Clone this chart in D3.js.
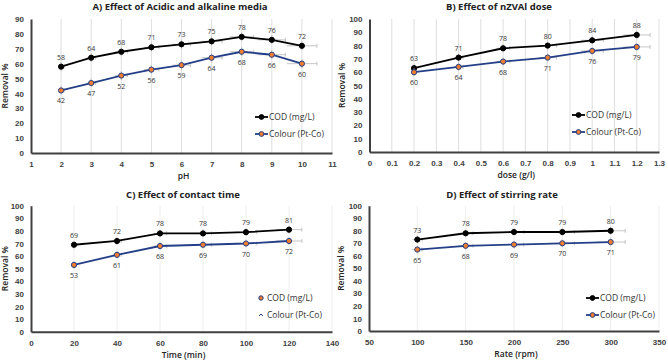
<!DOCTYPE html>
<html>
<head>
<meta charset="utf-8">
<script src="https://cdn.jsdelivr.net/npm/d3@7"></script>
<style>
  body { margin: 0; background: #fff; }
  svg { display: block; font-family: "Open Sans", "Noto Sans", sans-serif; }
</style>
</head>
<body>
<div id="chart"></div>
<script>
// panel A - pH
var phValues = [2, 3, 4, 5, 6, 7, 8, 9, 10];
var phCOD = [58, 64, 68, 71, 73, 75, 78, 76, 72];
var phColour = [42, 47, 52, 56, 59, 64, 68, 66, 60];
var phXErr = [0.1, 0.15, 0.2, 0.25, 0.3, 0.35, 0.4, 0.45, 0.5];
var phXTicks = [1, 2, 3, 4, 5, 6, 7, 8, 9, 10, 11];
var phYTicks = [0, 10, 20, 30, 40, 50, 60, 70, 80, 90];

// panel B - dose
var doseValues = [0.2, 0.4, 0.6, 0.8, 1.0, 1.2];
var doseCOD = [63, 71, 78, 80, 84, 88];
var doseColour = [60, 64, 68, 71, 76, 79];
var doseXErr = [0.01, 0.02, 0.03, 0.04, 0.05, 0.06];
var doseXTicks = [0, 0.1, 0.2, 0.3, 0.4, 0.5, 0.6, 0.7, 0.8, 0.9, 1, 1.1, 1.2, 1.3];

// panel C - time
var timeValues = [20, 40, 60, 80, 100, 120];
var timeCOD = [69, 72, 78, 78, 79, 81];
var timeColour = [53, 61, 68, 69, 70, 72];
var timeXErr = [1, 2, 3, 4, 5, 6];
var timeXTicks = [0, 20, 40, 60, 80, 100, 120, 140];

// panel D - rate
var rateValues = [100, 150, 200, 250, 300];
var rateCOD = [73, 78, 79, 79, 80];
var rateColour = [65, 68, 69, 70, 71];
var rateXErr = [5, 7.5, 10, 12.5, 15];
var rateXTicks = [50, 100, 150, 200, 250, 300, 350];

var yTicks100 = [0, 10, 20, 30, 40, 50, 60, 70, 80, 90, 100];
var yErr = 3;

var W = 668, H = 360;
var blue = "#243f88", orange = "#ed7d31", axisCol = "#404040";

var svg = d3.select("#chart").append("svg")
    .attr("width", W)
    .attr("height", H);

drawPanel({
    title: "A) Effect of Acidic and alkaline media", xTitle: "pH",
    x: phValues, cod: phCOD, colour: phColour, xErr: phXErr,
    xTicks: phXTicks, yTicks: phYTicks, xDomain: [1, 11], yDomain: [0, 90],
    left: 31, right: 332, top: 19, bottom: 153, grid: "#dedede",
    cx: 180, titleY: 10, yTitleX: 8, legendX: 255, legendY: 117, legendType: "line"
});

drawPanel({
    title: "B) Effect of nZVAl dose", xTitle: "dose (g/l)",
    x: doseValues, cod: doseCOD, colour: doseColour, xErr: doseXErr,
    xTicks: doseXTicks, yTicks: yTicks100, xDomain: [0, 1.3], yDomain: [0, 100],
    left: 369.5, right: 659, top: 19, bottom: 152, grid: "#dedede",
    cx: 499, titleY: 10, yTitleX: 345, legendX: 572, legendY: 115, legendType: "line"
});

drawPanel({
    title: "C) Effect of contact time", xTitle: "Time (min)",
    x: timeValues, cod: timeCOD, colour: timeColour, xErr: timeXErr,
    xTicks: timeXTicks, yTicks: yTicks100, xDomain: [0, 140], yDomain: [0, 100],
    left: 31, right: 332, top: 205.7, bottom: 331.7, grid: "#eeeeee",
    cx: 183, titleY: 198, yTitleX: 8, legendX: 255, legendY: 298, legendType: "dot"
});

drawPanel({
    title: "D) Effect of stirring rate", xTitle: "Rate (rpm)",
    x: rateValues, cod: rateCOD, colour: rateColour, xErr: rateXErr,
    xTicks: rateXTicks, yTicks: yTicks100, xDomain: [50, 350], yDomain: [0, 100],
    left: 369, right: 659, top: 205.7, bottom: 331, grid: "#eeeeee",
    cx: 502, titleY: 198, yTitleX: 344, legendX: 586, legendY: 298, legendType: "line"
});

function drawPanel(p) {
    var g = svg.append("g");
    var x = d3.scaleLinear().domain(p.xDomain).range([p.left, p.right]);
    var y = d3.scaleLinear().domain(p.yDomain).range([p.bottom, p.top]);

    // vertical gridlines
    g.selectAll("line.grid")
        .data(p.xTicks.slice(1))
        .enter()
        .append("line")
        .attr("x1", function(d) { return x(d); })
        .attr("x2", function(d) { return x(d); })
        .attr("y1", p.top)
        .attr("y2", p.bottom)
        .attr("stroke", p.grid)
        .attr("stroke-width", 1);

    // axes
    var xAxis = d3.axisBottom(x).tickValues(p.xTicks).tickSize(0).tickFormat(d3.format("~g"));
    var gx = g.append("g").attr("transform", "translate(0," + p.bottom + ")").call(xAxis);
    gx.select(".domain").attr("stroke", axisCol).attr("stroke-width", 2);
    gx.selectAll("text").attr("dy", "0").attr("y", 14)
        .attr("fill", axisCol).attr("font-size", 8).attr("font-weight", 600);

    var yAxis = d3.axisLeft(y).tickValues(p.yTicks).tickSize(0);
    var gy = g.append("g").attr("transform", "translate(" + p.left + ",0)").call(yAxis);
    gy.select(".domain").attr("stroke", axisCol).attr("stroke-width", 2);
    gy.selectAll("text").attr("x", -7).attr("dy", "0.32em")
        .attr("fill", axisCol).attr("font-size", 8).attr("font-weight", 600);

    // titles
    g.append("text").text(p.title)
        .attr("x", p.cx).attr("y", p.titleY)
        .attr("text-anchor", "middle")
        .attr("font-size", 9.5).attr("font-weight", 700).attr("fill", "#222");
    g.append("text").text(p.xTitle)
        .attr("x", (p.left + p.right) / 2 + 2).attr("y", p.bottom + 26)
        .attr("text-anchor", "middle")
        .attr("font-size", 8.5).attr("font-weight", 600).attr("fill", "#222");
    g.append("text").text("Removal %")
        .attr("transform", "translate(" + p.yTitleX + "," + (p.top + p.bottom) / 2 + ") rotate(-90)")
        .attr("text-anchor", "middle")
        .attr("font-size", 8.5).attr("font-weight", 600).attr("fill", "#222");

    var series = [
        { name: "COD (mg/L)", values: p.cod, line: "#000", fill: "#000", stroke: "#000", labelDy: -7 },
        { name: "Colour (Pt-Co)", values: p.colour, line: blue, fill: orange, stroke: blue, labelDy: 13 }
    ];

    series.forEach(function(s) {
        var pts = p.x.map(function(v, i) { return { x: v, y: s.values[i], e: p.xErr[i] }; });

        // error bars
        var eg = g.append("g").attr("stroke", "#b8b8b8").attr("stroke-width", 0.8);
        eg.selectAll("line.ey").data(pts).enter().append("line")
            .attr("x1", function(d) { return x(d.x); })
            .attr("x2", function(d) { return x(d.x); })
            .attr("y1", function(d) { return y(d.y - yErr); })
            .attr("y2", function(d) { return y(d.y + yErr); });
        eg.selectAll("line.ex").data(pts).enter().append("line")
            .attr("x1", function(d) { return x(d.x - d.e); })
            .attr("x2", function(d) { return x(d.x + d.e); })
            .attr("y1", function(d) { return y(d.y); })
            .attr("y2", function(d) { return y(d.y); });
        eg.selectAll("line.cap").data(pts).enter().append("line")
            .attr("x1", function(d) { return x(d.x + d.e); })
            .attr("x2", function(d) { return x(d.x + d.e); })
            .attr("y1", function(d) { return y(d.y) - 2; })
            .attr("y2", function(d) { return y(d.y) + 2; });

        var line = d3.line()
            .x(function(d) { return x(d.x); })
            .y(function(d) { return y(d.y); });
        g.append("path").datum(pts)
            .attr("d", line)
            .attr("fill", "none")
            .attr("stroke", s.line)
            .attr("stroke-width", 1.8);

        g.selectAll(null).data(pts).enter().append("circle")
            .attr("cx", function(d) { return x(d.x); })
            .attr("cy", function(d) { return y(d.y); })
            .attr("r", 2.6)
            .attr("fill", s.fill)
            .attr("stroke", s.stroke)
            .attr("stroke-width", 1);

        g.selectAll(null).data(pts).enter().append("text")
            .text(function(d) { return d.y; })
            .attr("x", function(d) { return x(d.x); })
            .attr("y", function(d) { return y(d.y) + s.labelDy; })
            .attr("text-anchor", "middle")
            .attr("font-size", 7)
            .attr("fill", "#333");
    });

    // legend
    series.forEach(function(s, i) {
        var ly = p.legendY + i * 17;
        var lg = g.append("g");
        if (p.legendType === "line") {
            lg.append("line")
                .attr("x1", p.legendX).attr("x2", p.legendX + 13)
                .attr("y1", ly).attr("y2", ly)
                .attr("stroke", s.line).attr("stroke-width", 1.8);
            lg.append("circle")
                .attr("cx", p.legendX + 6.5).attr("cy", ly).attr("r", 2.4)
                .attr("fill", s.fill).attr("stroke", s.stroke);
            lg.append("text").text(s.name)
                .attr("x", p.legendX + 14).attr("y", ly).attr("dy", "0.35em")
                .attr("font-size", 8.5).attr("fill", "#333");
        } else {
            if (i === 0) {
                lg.append("circle")
                    .attr("cx", p.legendX + 6).attr("cy", ly).attr("r", 2.2)
                    .attr("fill", orange).attr("stroke", blue);
            } else {
                lg.append("path")
                    .attr("d", "M" + (p.legendX + 4) + "," + (ly + 1) + " L" + (p.legendX + 6) + "," + (ly - 1) + " L" + (p.legendX + 8) + "," + (ly + 1))
                    .attr("fill", "none").attr("stroke", blue).attr("stroke-width", 1);
            }
            lg.append("text").text(s.name)
                .attr("x", p.legendX + 12).attr("y", ly).attr("dy", "0.35em")
                .attr("font-size", 8.5).attr("fill", "#333");
        }
    });
}
</script>
</body>
</html>
